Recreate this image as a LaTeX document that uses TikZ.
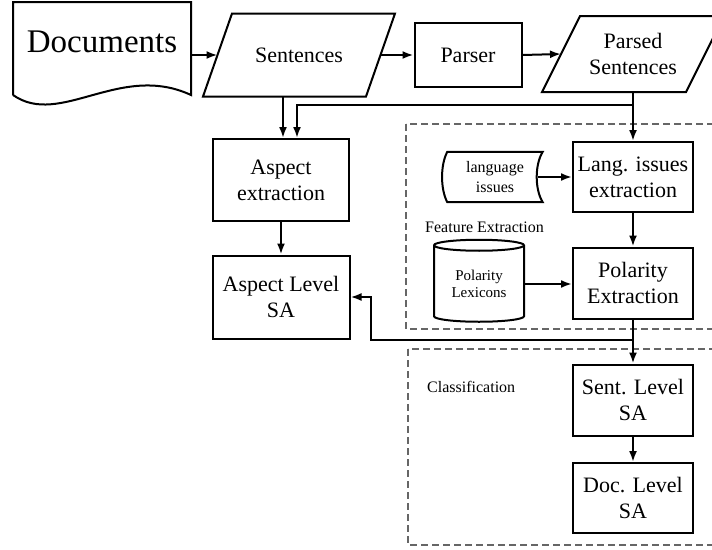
\documentclass[tikz,border=0pt]{standalone}
\usepackage{fontspec}
\setmainfont{Liberation Serif}
\usetikzlibrary{shapes,arrows.meta,positioning}

\begin{document}
\begin{tikzpicture}[x=1pt,y=-1pt]
  \tikzset{ box/.style={draw,line width=2pt,align=center,inner sep=0pt,font=\fontsize{22}{26}\selectfont},
    io/.style={box,draw=none},
    line/.style={line width=2pt},
    arr/.style={line,-{Latex[length=11pt,width=8pt]}},
    frame/.style={draw=black!60,line width=1.1pt,dash pattern=on 7pt off 4pt},
    small/.style={inner sep=0pt,align=center,font=\fontsize{16}{20}\selectfont},
  }
  \useasboundingbox (0,0) rectangle (712,549);

  % the two dashed groups
  \draw[frame] (406,124) rectangle (740,329);
  \draw[frame] (408,349) rectangle (740,545);
  \node[small,anchor=west] (FE) at (425,227) {Feature Extraction};
  \node[small,anchor=west] (CL) at (427,387) {Classification};

  % input documents
  \draw[line] (13,95) -- (13,2) -- (191,2) -- (191,95)
    .. controls (120,62) and (60,128) .. (13,95);
  \node[inner sep=0pt,font=\fontsize{33}{36}\selectfont] (D) at (102,42) {Documents};
  \coordinate (DR) at (191,55);

  \node[io,minimum width=161,minimum height=81] (S) at (299,55) {Sentences};
  \draw[line] ([xshift=14.5]S.north west) -- ([xshift=14.5]S.north east)
    -- ([xshift=-14.5]S.south east) -- ([xshift=-14.5]S.south west) -- cycle;
  \node[box,minimum width=107,minimum height=64] (P) at (468,55) {Parser};
  \node[io,minimum width=142,minimum height=74] (PS) at (633,54) {Parsed\\Sentences};
  \draw[line] ([xshift=19]PS.north west) -- ([xshift=19]PS.north east)
    -- ([xshift=-19]PS.south east) -- ([xshift=-19]PS.south west) -- cycle;

  \node[box,minimum width=136,minimum height=82] (A1) at (281,180) {Aspect\\extraction};
  \node[box,minimum width=137,minimum height=83] (A2) at (281,297) {Aspect Level\\SA};

  \node[box,minimum width=120,minimum height=70] (L1) at (633,177) {Lang. issues\\extraction};
  \node[box,minimum width=120,minimum height=71] (L2) at (633,283) {Polarity\\Extraction};
  \node[small,minimum width=95,minimum height=50] (L0) at (495,177) {language\\issues};
  \draw[line] (L0.north west) .. controls +(-7,13) and +(-7,-13) .. (L0.south west)
    -- (L0.south east) .. controls +(-8,-13) and +(-8,13) .. (L0.north east) -- cycle;
  \node[cylinder,shape border rotate=90,draw,line,aspect=0.2,
    minimum width=90,minimum height=82,small,font=\fontsize{15}{17}\selectfont] (C) at (479,284) {Polarity\\Lexicons};

  \node[box,minimum width=120,minimum height=71] (SL) at (633,400) {Sent. Level\\SA};
  \node[box,minimum width=120,minimum height=70] (DL) at (633,498) {Doc. Level\\SA};

  \coordinate (J1) at (633,105);
  \coordinate (J2) at (633,340);
  \coordinate (K2) at (371,340);

  % the connections
  \draw[arr] (DR) -- (S.west);
  \draw[arr] (S.east) -- (P.west);
  \draw[arr] (P.east) -- (PS.west);
  \draw[arr] ([xshift=-16]S.south) -- ([xshift=-16]S.south |- A1.north);
  \draw[arr] (L1.north |- PS.south) -- (L1.north);
  \draw[arr] (J1) -| ([xshift=16]A1.north);
  \draw[arr] (A1) -- (A2);
  \draw[arr] ([xshift=-5]L0.east) -- (L1.west);
  \draw[arr] (L1) -- (L2);
  \draw[arr] (C.east) -- (L2.west |- C.east);
  \draw[arr] (L2) -- (SL);
  \draw[arr] (J2) -- (K2) |- (A2.east);
  \draw[arr] (SL) -- (DL);
\end{tikzpicture}
\end{document}
